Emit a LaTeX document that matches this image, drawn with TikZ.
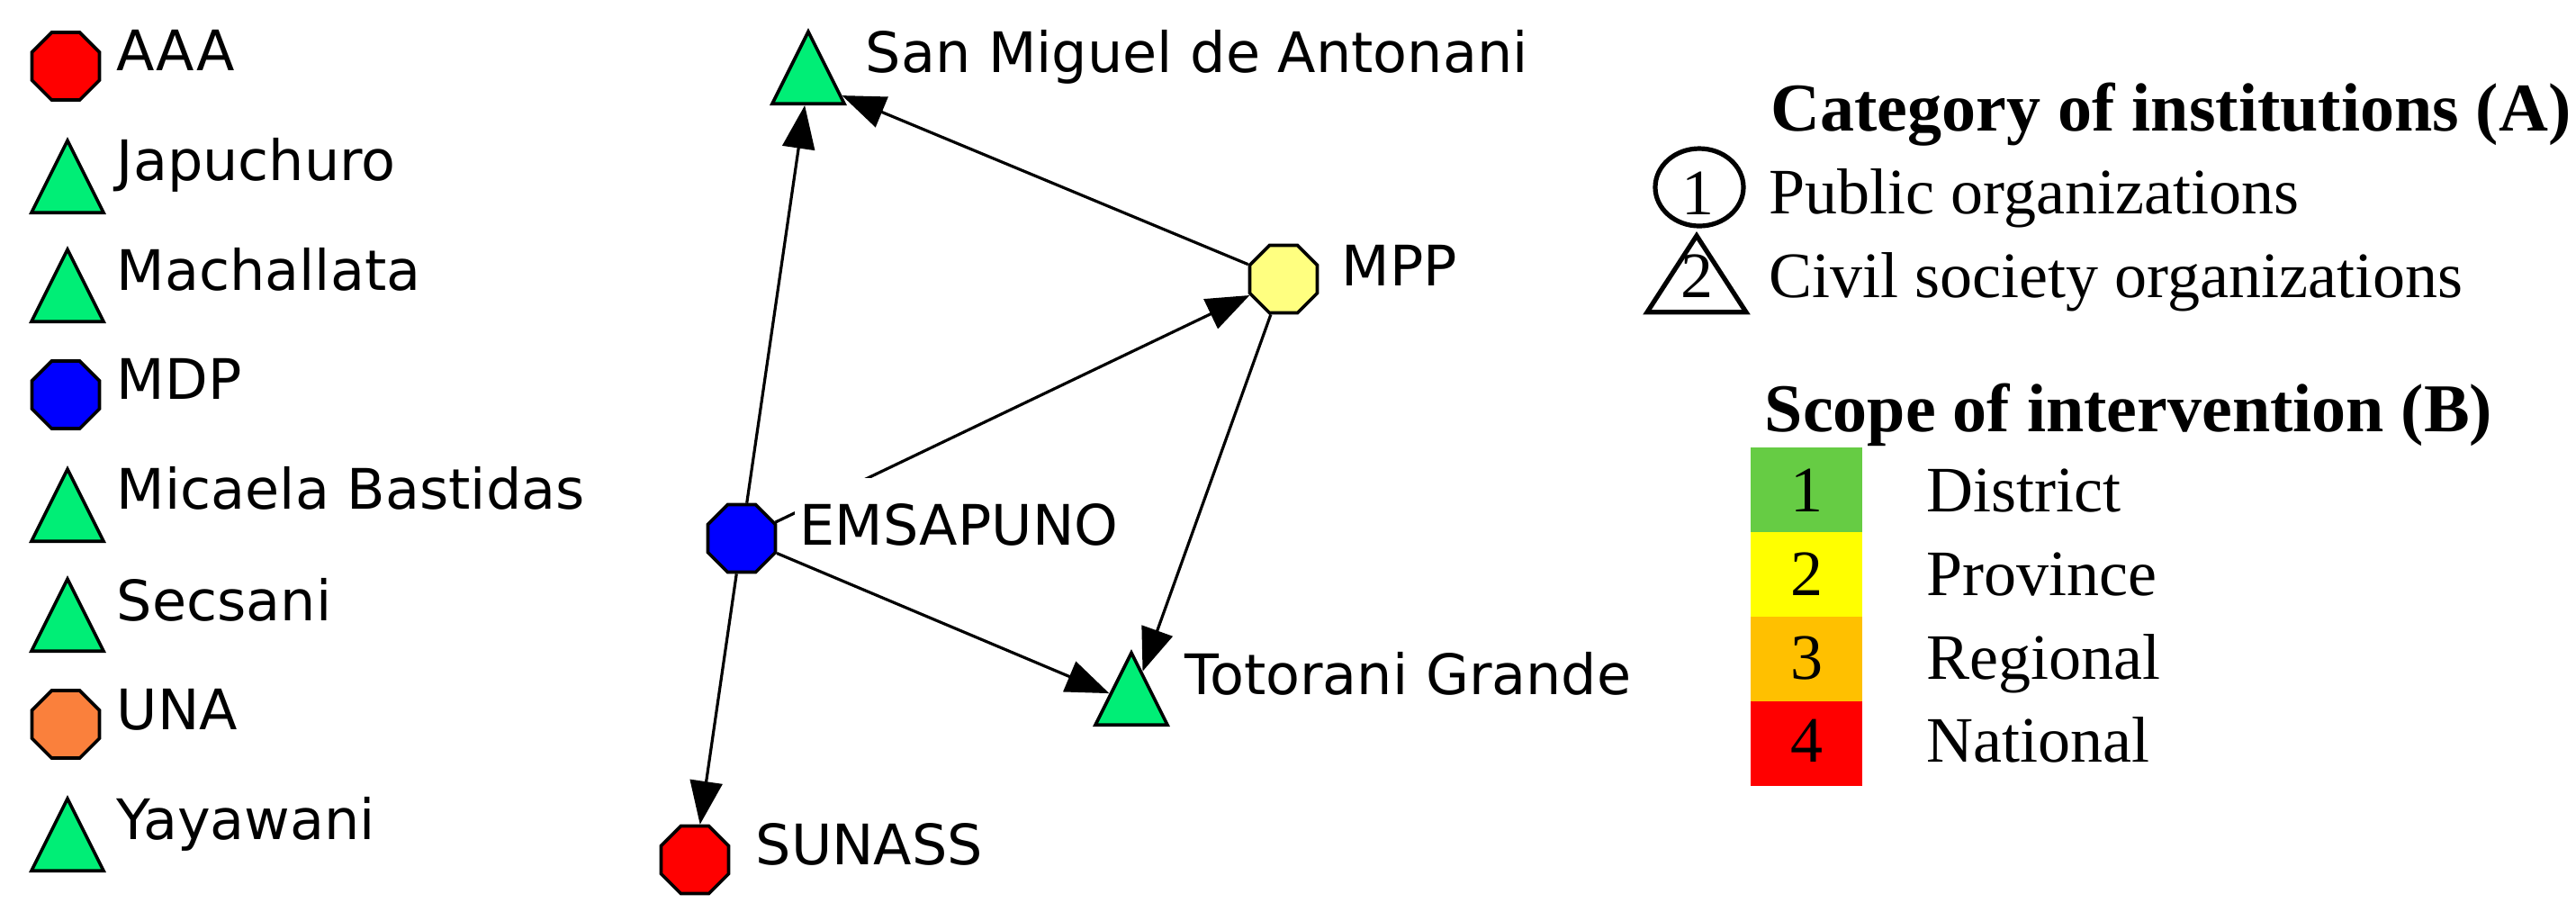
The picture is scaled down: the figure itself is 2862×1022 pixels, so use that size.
\documentclass[tikz,border=0pt]{standalone}
\usepackage{fontspec}
\setmainfont{Liberation Serif}
\newfontfamily\dvsans{DejaVu Sans}
\usetikzlibrary{shapes.geometric,arrows.meta}
\definecolor{tgreen}{RGB}{0,238,118}
\definecolor{ored}{RGB}{255,0,0}
\definecolor{oblue}{RGB}{0,0,255}
\definecolor{oorange}{RGB}{250,128,60}
\definecolor{oyellow}{RGB}{255,255,128}
\definecolor{lgreen}{RGB}{102,204,68}
\definecolor{lyellow}{RGB}{255,255,0}
\definecolor{lorange}{RGB}{255,192,0}
\definecolor{lred}{RGB}{255,0,0}
\begin{document}
\begin{tikzpicture}[x=0.25pt,y=-0.25pt,
  oct/.style={regular polygon, regular polygon sides=8, minimum size=20.3pt, inner sep=0pt, draw=black, line width=0.9pt},
  tri/.style={isosceles triangle, isosceles triangle stretches, shape border rotate=90, minimum width=20pt, minimum height=20pt, inner sep=0pt, draw=black, line width=0.9pt, fill=tgreen, anchor=south},
  lbl/.style={anchor=base west, font=\dvsans\fontsize{15.5pt}{18pt}\selectfont, inner sep=0pt},
  glbl/.style={lbl, fill=white, inner xsep=1.5pt, inner ysep=2.5pt, text height=16pt, text depth=0pt},
  edge/.style={line width=0.8pt, -{Triangle[length=12pt,width=9pt]}},
  ttl/.style={anchor=base west, inner sep=0pt, font=\fontsize{19pt}{22pt}\selectfont\bfseries},
  ltxt/.style={anchor=base west, inner sep=0pt, font=\fontsize{18pt}{21pt}\selectfont},
  num/.style={anchor=base, inner sep=0pt, font=\fontsize{18pt}{21pt}\selectfont},
  blk/.style={minimum width=31pt, minimum height=23.5pt, inner sep=0pt}
]
\useasboundingbox (0,0) rectangle (2862,1022);

% left column
\node[oct, fill=ored] (aaa) at (73,73.5) {};
\node[lbl] (aaal) at (129,78) {AAA};
\node[tri] (jap) at (75,238) {};
\node[lbl] (japl) at (129,200) {Japuchuro};
\node[tri] (mach) at (75,359) {};
\node[lbl] (machl) at (129,322) {Machallata};
\node[oct, fill=oblue] (mdp) at (73,438.5) {};
\node[lbl] (mdpl) at (129,443) {MDP};
\node[tri] (mica) at (75,603) {};
\node[lbl] (mical) at (129,565) {Micaela Bastidas};
\node[tri] (secs) at (75,725) {};
\node[lbl] (secsl) at (129,689) {Secsani};
\node[oct, fill=oorange] (una) at (73,804.5) {};
\node[lbl] (unal) at (129,810) {UNA};
\node[tri] (yaya) at (75,969) {};
\node[lbl] (yayal) at (129,932) {Yayawani};

% network
\node[tri] (smig) at (898,117) {};
\node[oct, fill=oyellow] (mpp) at (1426,310) {};
\node[oct, fill=oblue] (ems) at (824,598) {};
\node[tri] (toto) at (1257,807) {};
\node[oct, fill=ored] (sun) at (772,955) {};

\draw[edge] (ems) -- (smig);
\draw[edge] (mpp) -- (smig);
\draw[edge] (ems) -- (mpp);
\draw[edge] (mpp) -- (toto);
\draw[edge] (ems) -- (toto);
\draw[edge] (ems) -- (sun);

\node[glbl] (smigl) at (955,80) {San Miguel de Antonani};
\node[glbl] (mppl) at (1484,317) {MPP};
\node[glbl] (emsl) at (882,605) {EMSAPUNO};
\node[glbl] (totol) at (1310,771) {Totorani Grande};
\node[glbl] (sunl) at (833,960) {SUNASS};

% legend A
\node[ttl] (ta) at (1967,145) {Category of institutions (A)};
\node[ellipse, draw=black, line width=1.3pt, minimum width=24.5pt, minimum height=21.5pt, inner sep=0pt] (lc) at (1888,208) {};
\node[num] (lcn) at (1886,238) {1};
\node[isosceles triangle, isosceles triangle stretches, shape border rotate=90, minimum width=27.5pt, minimum height=21.25pt, inner sep=0pt, draw=black, line width=1.3pt, anchor=apex] (lt) at (1885,255) {};
\node[num] (ltn) at (1885,330) {2};
\node[ltxt] (pub) at (1965,237) {Public organizations};
\node[ltxt] (civ) at (1965,330) {Civil society organizations};

% legend B
\node[ttl] (tb) at (1960,479) {Scope of intervention (B)};
\node[blk, fill=lgreen] (b1) at (2007,544) {};
\node[blk, fill=lyellow] (b2) at (2007,638) {};
\node[blk, fill=lorange] (b3) at (2007,732) {};
\node[blk, fill=lred] (b4) at (2007,826) {};
\node[num] (n1) at (2007,568) {1};
\node[num] (n2) at (2007,661) {2};
\node[num] (n3) at (2007,754) {3};
\node[num] (n4) at (2007,846) {4};
\node[ltxt] (d1) at (2140,568) {District};
\node[ltxt] (d2) at (2140,661) {Province};
\node[ltxt] (d3) at (2140,754) {Regional};
\node[ltxt] (d4) at (2140,846) {National};
\end{tikzpicture}
\end{document}
